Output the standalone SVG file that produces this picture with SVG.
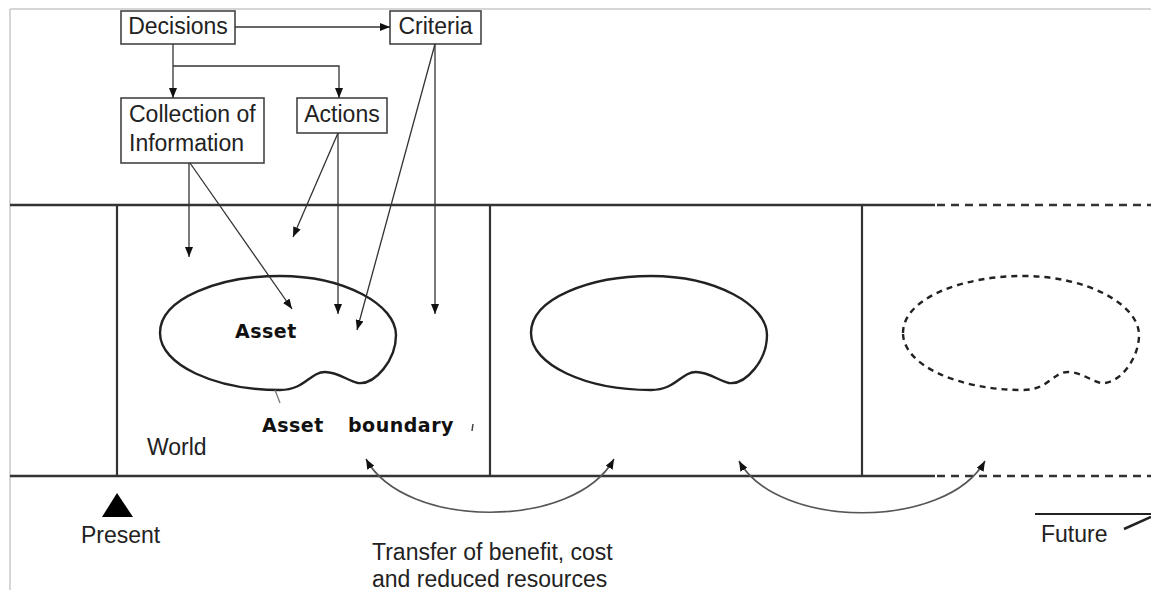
<svg xmlns="http://www.w3.org/2000/svg" width="1151" height="590" viewBox="0 0 1151 590">
<style>
.box{fill:#fff;stroke:#444;stroke-width:1.6}
.lbl{font-family:"Liberation Sans",Arial,sans-serif;font-size:23px;fill:#222}
.bold{font-family:"DejaVu Sans",sans-serif;font-weight:bold;font-size:19px;fill:#111;letter-spacing:0.5px}
.conn{fill:none;stroke:#333;stroke-width:1.3}
.arc{fill:none;stroke:#555;stroke-width:1.6}
.rail{stroke:#333;stroke-width:2.6;fill:none}
.div{stroke:#333;stroke-width:2.2}
.blob{fill:none;stroke:#222;stroke-width:2.4}
</style>
<defs>
<marker id="ah" viewBox="0 0 10 8" refX="10" refY="4" markerWidth="10" markerHeight="8" markerUnits="userSpaceOnUse" orient="auto-start-reverse">
<path d="M0,0 L10,4 L0,8 z" fill="#111"/>
</marker>
<path id="blobShape" d="M 0,333 C 0,298 60,276 120,276 C 185,276 236,305 236,335 C 236,360 215,385 198,383 C 188,381 178,372 165,372 C 150,372 145,390 120,390 C 55,390 0,365 0,333 Z"/>
<clipPath id="leftCell"><rect x="10" y="205" width="107" height="271"/></clipPath>
</defs>
<rect width="1151" height="590" fill="#fff"/>
<g id="frame">
<line x1="10" y1="9" x2="1151" y2="9" stroke="#c8c8c8" stroke-width="1.5"/>
<line x1="10" y1="9" x2="10" y2="590" stroke="#c8c8c8" stroke-width="1.5"/>
</g>
<g id="timeline">
<line class="rail" x1="10" y1="205" x2="935" y2="205"/>
<line class="rail" x1="10" y1="476" x2="935" y2="476"/>
<line class="rail" x1="937" y1="205" x2="1151" y2="205" stroke-dasharray="8 6"/>
<line class="rail" x1="937" y1="476" x2="1151" y2="476" stroke-dasharray="8 6"/>
<line class="div" x1="117" y1="205" x2="117" y2="476"/>
<line class="div" x1="490" y1="205" x2="490" y2="476"/>
<line class="div" x1="862" y1="205" x2="862" y2="476"/>
</g>
<g id="assets">
<use href="#blobShape" class="blob" transform="translate(-168,0)" clip-path="url(#leftCell)"/>
<use href="#blobShape" class="blob" transform="translate(160,0)"/>
<use href="#blobShape" class="blob" transform="translate(531,0)"/>
<use href="#blobShape" class="blob" transform="translate(903,0)" stroke-dasharray="6 5"/>
</g>
<g id="decisions">
<rect class="box" x="121" y="11" width="114" height="33"/>
<text class="lbl" x="178" y="34" text-anchor="middle">Decisions</text>
</g>
<g id="criteria">
<rect class="box" x="390" y="11" width="91" height="33"/>
<text class="lbl" x="435.5" y="34" text-anchor="middle">Criteria</text>
</g>
<g id="collection">
<rect class="box" x="121" y="98" width="143" height="65"/>
<text class="lbl" x="129" y="122">Collection of</text>
<text class="lbl" x="129" y="151">Information</text>
</g>
<g id="actions">
<rect class="box" x="297" y="98" width="90" height="35"/>
<text class="lbl" x="342" y="122" text-anchor="middle">Actions</text>
</g>
<g id="connectors">
<line class="conn" x1="235" y1="27" x2="390" y2="27" marker-end="url(#ah)"/>
<line class="conn" x1="173" y1="44" x2="173" y2="98" marker-end="url(#ah)"/>
<polyline class="conn" points="173,66 339,66 339,98" marker-end="url(#ah)"/>
<line class="conn" x1="189" y1="163" x2="189" y2="257" marker-end="url(#ah)"/>
<line class="conn" x1="190" y1="163" x2="292" y2="309" marker-end="url(#ah)"/>
<line class="conn" x1="338" y1="133" x2="293" y2="237" marker-end="url(#ah)"/>
<line class="conn" x1="338" y1="133" x2="338" y2="314" marker-end="url(#ah)"/>
<line class="conn" x1="435" y1="44" x2="357" y2="330" marker-end="url(#ah)"/>
<line class="conn" x1="435" y1="44" x2="435" y2="314" marker-end="url(#ah)"/>
<path class="arc" d="M 366,459 C 405,530 575,530 614,459" marker-start="url(#ah)" marker-end="url(#ah)"/>
<path class="arc" d="M 739,461 C 778,530 946,530 985,461" marker-start="url(#ah)" marker-end="url(#ah)"/>
<line x1="275" y1="390" x2="280" y2="403" stroke="#777" stroke-width="1.3"/>
<line x1="473" y1="424" x2="472" y2="431" stroke="#444" stroke-width="1.5"/>
</g>
<g id="labels">
<text class="bold" x="235" y="338">Asset</text>
<text class="bold"><tspan x="262" y="432">Asset</tspan><tspan x="348" y="432">boundary</tspan></text>
<text class="lbl" x="147" y="455" fill="#333">World</text>
<text class="lbl" x="372" y="560">Transfer of benefit, cost</text>
<text class="lbl" x="372" y="587">and reduced resources</text>
</g>
<g id="present">
<polygon points="117,493 102,517 133,517" fill="#000"/>
<text class="lbl" x="81" y="543">Present</text>
</g>
<g id="future">
<line x1="1035" y1="514" x2="1151" y2="514" stroke="#222" stroke-width="2"/>
<line x1="1124" y1="529" x2="1151" y2="517" stroke="#222" stroke-width="2.5"/>
<text class="lbl" x="1041" y="542">Future</text>
</g>
</svg>
